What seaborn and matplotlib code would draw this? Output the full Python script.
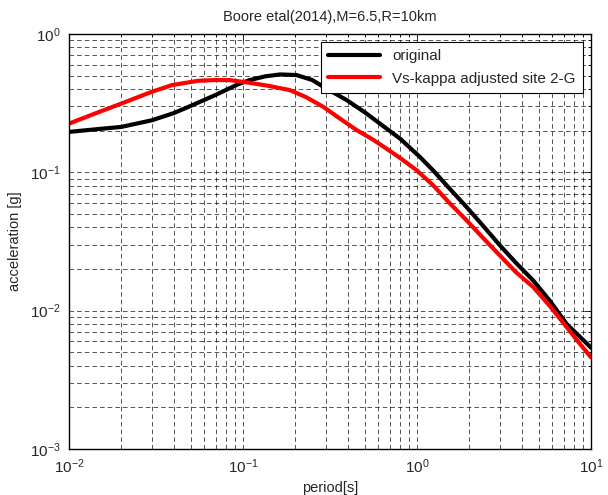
import numpy as np
import pandas as pd
import matplotlib
matplotlib.use("Agg")
import matplotlib.pyplot as plt
import seaborn as sns

# data
period_orig = [0.01, 0.015, 0.02, 0.03, 0.04, 0.0485, 0.069, 0.094, 0.109, 0.135, 0.163,
               0.203, 0.25, 0.29, 0.394, 0.5, 0.612, 0.8, 1.04, 1.24, 1.5, 1.93, 2.4,
               3.0, 3.7, 4.66, 5.8, 7.25, 8.5, 10.0]
acc_orig = [0.196, 0.206, 0.213, 0.238, 0.268, 0.297, 0.361, 0.434, 0.464, 0.495, 0.51,
            0.505, 0.465, 0.415, 0.333, 0.272, 0.225, 0.175, 0.129, 0.103, 0.079, 0.056, 0.041,
            0.0296, 0.0222, 0.0165, 0.0118, 0.008, 0.0066, 0.0054]

period_adj = [0.01, 0.0141, 0.0201, 0.0299, 0.039, 0.0553, 0.07, 0.084, 0.109, 0.14, 0.186,
              0.23, 0.29, 0.36, 0.45, 0.56, 0.67, 0.8, 1.0, 1.24, 1.5, 1.93, 2.4, 3.0, 3.7,
              4.66, 5.8, 7.25, 8.5, 10.0]
acc_adj = [0.225, 0.266, 0.315, 0.382, 0.427, 0.459, 0.465, 0.464, 0.444, 0.422, 0.393,
           0.35, 0.297, 0.245, 0.202, 0.172, 0.148, 0.127, 0.103, 0.0805, 0.062, 0.0449, 0.0335,
           0.025, 0.019, 0.0148, 0.0108, 0.0076, 0.0059, 0.0046]

series_names = ["original", "Vs-kappa adjusted site 2-G"]
title = "Boore etal(2014),M=6.5,R=10km"

df = pd.concat([
    pd.DataFrame({"period": period_orig, "acc": acc_orig, "series": series_names[0]}),
    pd.DataFrame({"period": period_adj, "acc": acc_adj, "series": series_names[1]}),
])

sns.set_theme(style="white")
plt.rcParams["font.family"] = ["Liberation Sans", "DejaVu Sans"]
plt.rcParams["mathtext.default"] = "regular"

fig = plt.figure(figsize=(6.08, 4.95), dpi=100)
ax = fig.add_axes([69 / 608, 1 - 449 / 495, (591 - 69) / 608, (449 - 34) / 495])

sns.lineplot(data=df, x="period", y="acc", hue="series", palette=["black", "red"],
             linewidth=3.0, sort=False, ax=ax, estimator=None)

ax.set_xscale("log")
ax.set_yscale("log")
ax.set_xlim(0.01, 10)
ax.set_ylim(1e-3, 1)

ax.grid(True, which="both", color="black", linestyle=(0, (6, 4)), linewidth=0.55, alpha=0.85)
ax.tick_params(which="both", direction="in", top=True, right=True, color="black",
               labelsize=11, pad=6)
ax.tick_params(which="major", length=4, width=0.6)
ax.tick_params(which="minor", length=2.5, width=0.6)
for s in ax.spines.values():
    s.set_visible(True)
    s.set_color("black")
    s.set_linewidth(1.0)

ax.set_xlabel("period[s]", fontsize=10.5, labelpad=4)
ax.set_ylabel("acceleration [g]", fontsize=10.5, labelpad=6)
ax.set_title(title, fontsize=10.5, pad=9)

leg = ax.legend(loc="upper right", fontsize=11, frameon=True, fancybox=False,
                edgecolor="black", framealpha=1, handlelength=3.4,
                borderaxespad=0.55, borderpad=0.45, labelspacing=0.55)
leg.get_frame().set_linewidth(0.8)

fig.savefig("out.png", dpi=100)
